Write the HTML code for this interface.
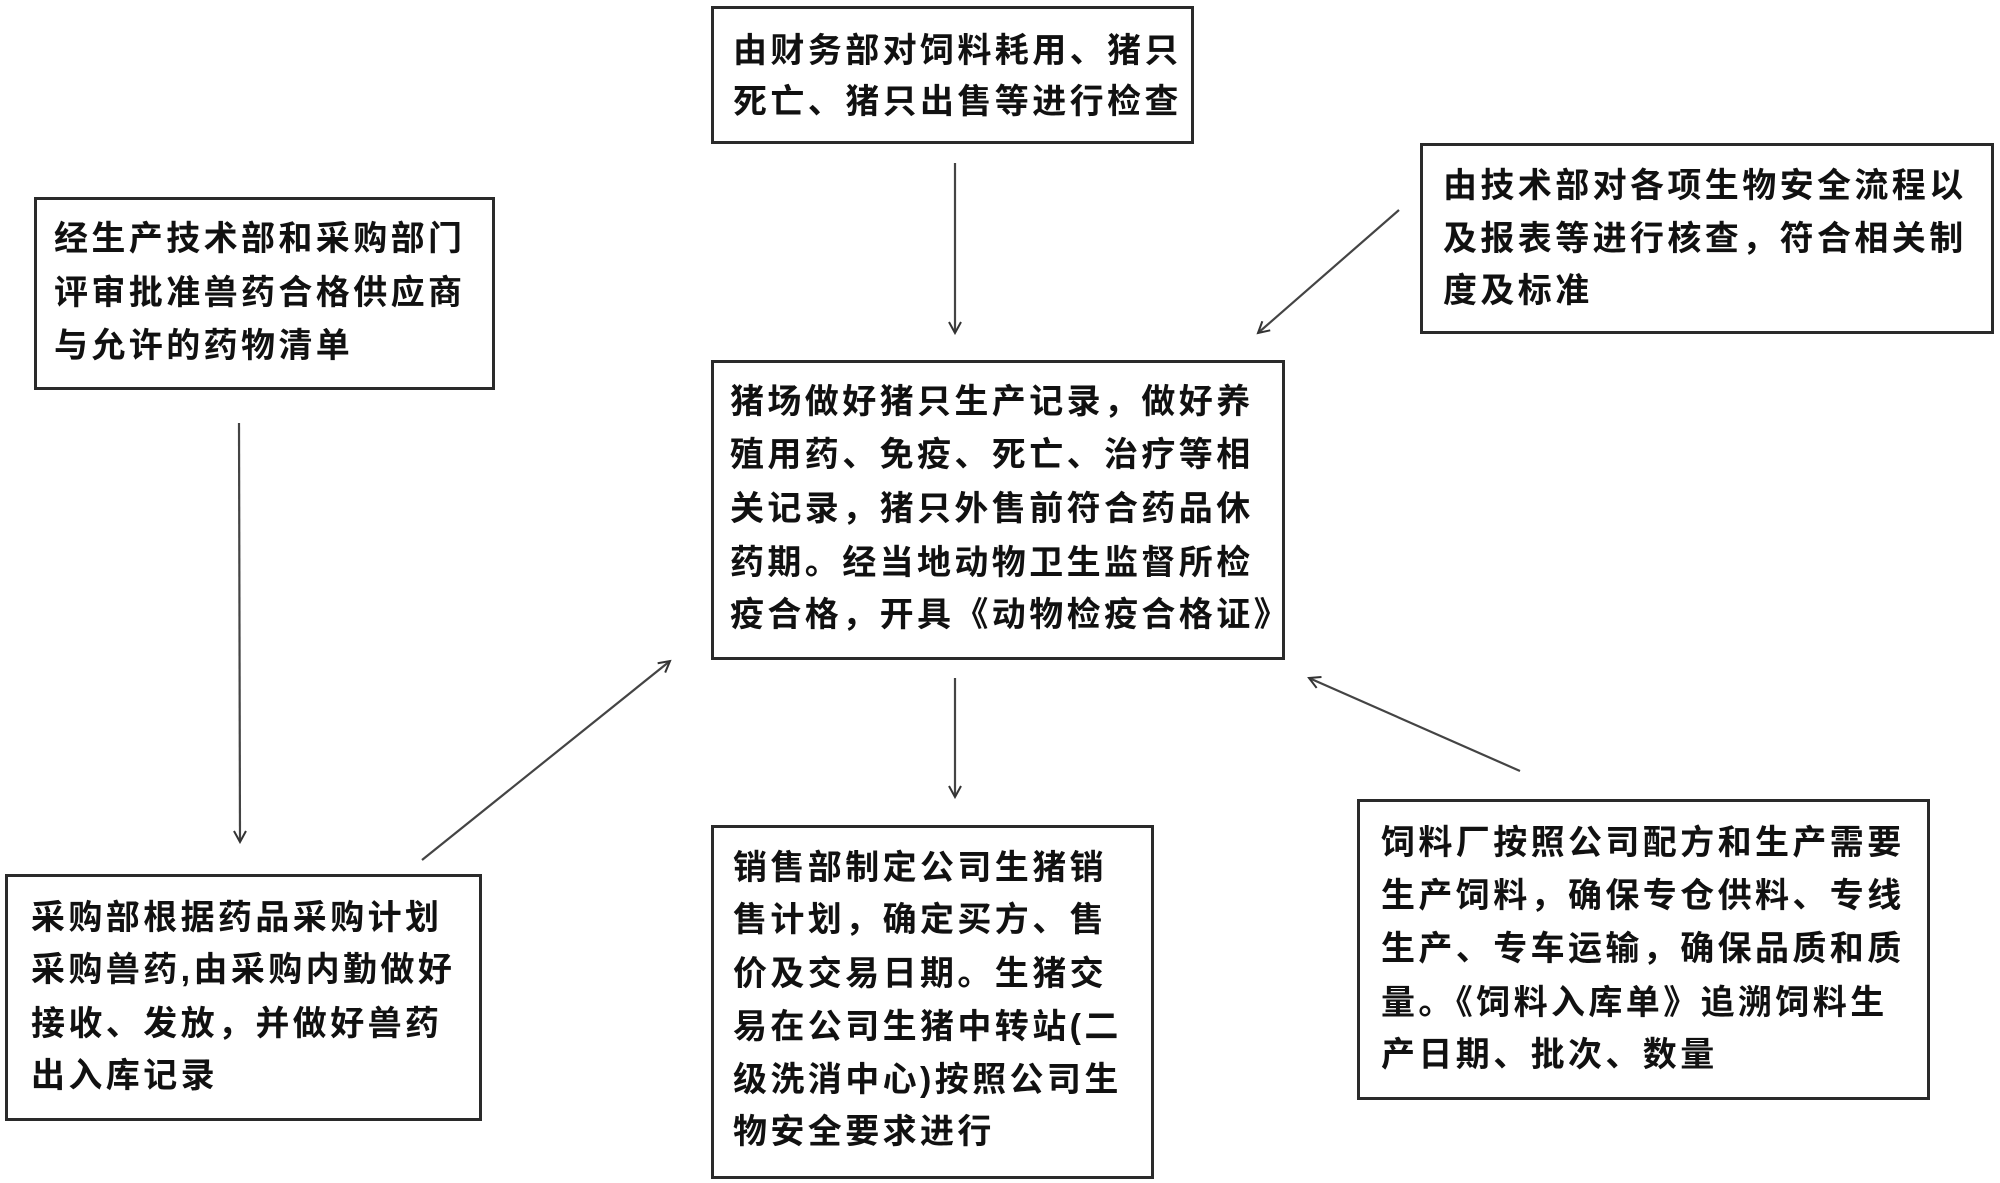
<!DOCTYPE html>
<html><head><meta charset="utf-8"><style>
html,body{margin:0;padding:0;background:#fff;}
body{width:2000px;height:1183px;position:relative;overflow:hidden;font-family:"Liberation Sans","Noto Sans CJK SC","WenQuanYi Zen Hei",sans-serif;}
.b{position:absolute;border:3px solid #2a2a2a;box-sizing:border-box;background:#fff;}
.t{position:absolute;font-size:34px;font-weight:bold;letter-spacing:3.4px;white-space:nowrap;color:#111;line-height:40px;}
svg{position:absolute;left:0;top:0;}
</style></head><body>
<svg width="2000" height="1183" viewBox="0 0 2000 1183">
<defs><marker id="a" markerWidth="14" markerHeight="14" refX="12" refY="7" orient="auto" markerUnits="userSpaceOnUse"><path d="M1,1 L12,7 L1,13" fill="none" stroke="#333" stroke-width="2"/></marker></defs>
<g stroke="#444" stroke-width="2.2" fill="none">
<line x1="955" y1="163" x2="955" y2="333" marker-end="url(#a)"/>
<line x1="239" y1="423" x2="240" y2="842" marker-end="url(#a)"/>
<line x1="1399" y1="210" x2="1258" y2="333" marker-end="url(#a)"/>
<line x1="422" y1="860" x2="670" y2="661" marker-end="url(#a)"/>
<line x1="955" y1="678" x2="955" y2="797" marker-end="url(#a)"/>
<line x1="1520" y1="771" x2="1309" y2="678" marker-end="url(#a)"/>
</g></svg>

<div class="b" style="left:711px;top:6px;width:483px;height:138px"></div>
<div class="t" style="left:733px;top:31px">由财务部对饲料耗用、猪只</div>
<div class="t" style="left:733px;top:82px">死亡、猪只出售等进行检查</div>

<div class="b" style="left:34px;top:197px;width:461px;height:193px"></div>
<div class="t" style="left:54px;top:219px">经生产技术部和采购部门</div>
<div class="t" style="left:54px;top:273px">评审批准兽药合格供应商</div>
<div class="t" style="left:54px;top:326px">与允许的药物清单</div>

<div class="b" style="left:1420px;top:143px;width:574px;height:191px"></div>
<div class="t" style="left:1443px;top:166px">由技术部对各项生物安全流程以</div>
<div class="t" style="left:1443px;top:219px">及报表等进行核查，符合相关制</div>
<div class="t" style="left:1443px;top:271px">度及标准</div>

<div class="b" style="left:711px;top:360px;width:574px;height:300px"></div>
<div class="t" style="left:730px;top:382px">猪场做好猪只生产记录，做好养</div>
<div class="t" style="left:730px;top:435px">殖用药、免疫、死亡、治疗等相</div>
<div class="t" style="left:730px;top:489px">关记录，猪只外售前符合药品休</div>
<div class="t" style="left:730px;top:543px">药期。经当地动物卫生监督所检</div>
<div class="t" style="left:730px;top:595px">疫合格，开具《动物检疫合格证》</div>

<div class="b" style="left:5px;top:874px;width:477px;height:247px"></div>
<div class="t" style="left:31px;top:898px">采购部根据药品采购计划</div>
<div class="t" style="left:31px;top:950px">采购兽药,由采购内勤做好</div>
<div class="t" style="left:31px;top:1004px">接收、发放，并做好兽药</div>
<div class="t" style="left:31px;top:1056px">出入库记录</div>

<div class="b" style="left:711px;top:825px;width:443px;height:354px"></div>
<div class="t" style="left:733px;top:848px">销售部制定公司生猪销</div>
<div class="t" style="left:733px;top:900px">售计划，确定买方、售</div>
<div class="t" style="left:733px;top:954px">价及交易日期。生猪交</div>
<div class="t" style="left:733px;top:1007px">易在公司生猪中转站(二</div>
<div class="t" style="left:733px;top:1060px">级洗消中心)按照公司生</div>
<div class="t" style="left:733px;top:1112px">物安全要求进行</div>

<div class="b" style="left:1357px;top:799px;width:573px;height:301px"></div>
<div class="t" style="left:1381px;top:823px">饲料厂按照公司配方和生产需要</div>
<div class="t" style="left:1381px;top:876px">生产饲料，确保专仓供料、专线</div>
<div class="t" style="left:1381px;top:929px">生产、专车运输，确保品质和质</div>
<div class="t" style="left:1381px;top:983px">量。《饲料入库单》追溯饲料生</div>
<div class="t" style="left:1381px;top:1035px">产日期、批次、数量</div>
</body></html>
